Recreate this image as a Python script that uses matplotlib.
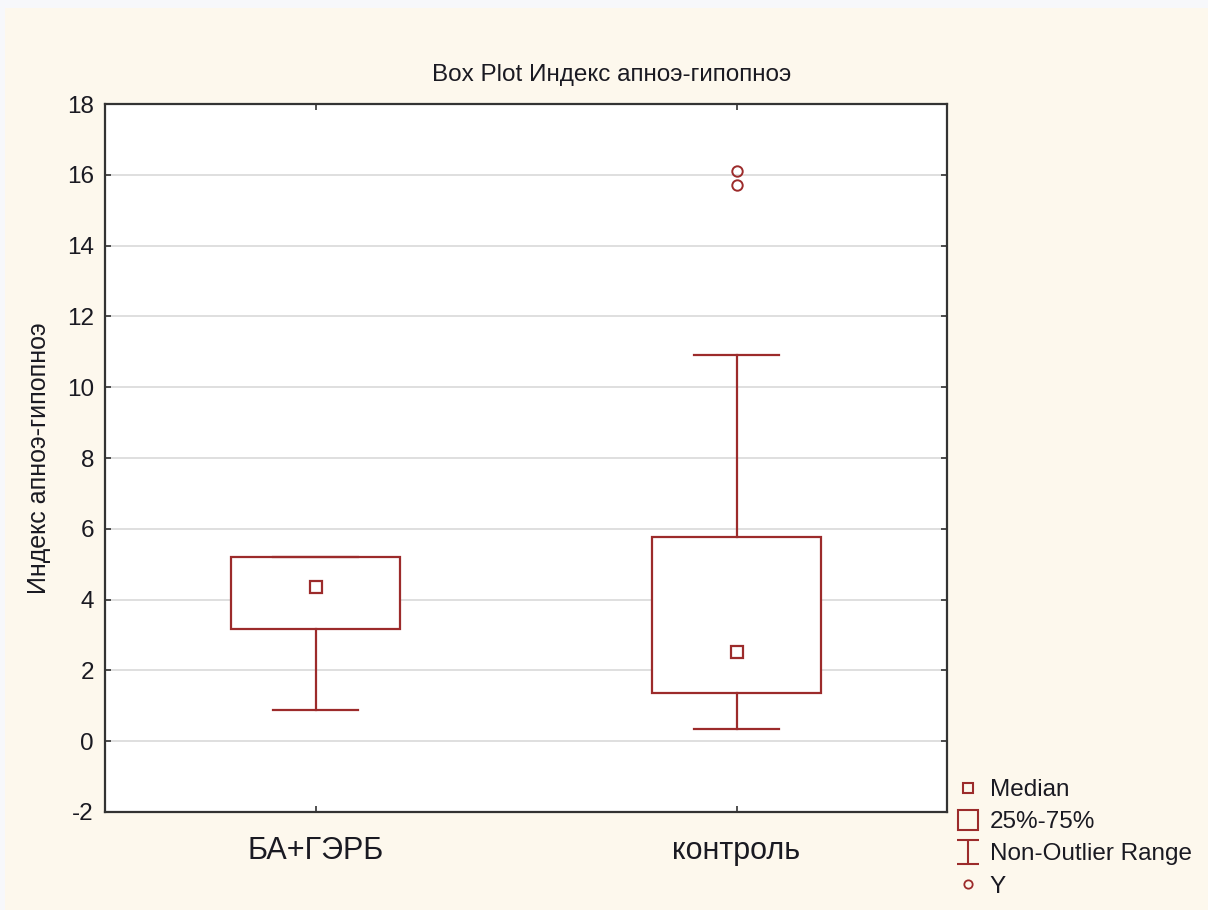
import matplotlib
matplotlib.use("Agg")
import matplotlib.pyplot as plt
from matplotlib.lines import Line2D
from matplotlib.patches import Rectangle
from matplotlib.path import Path

# ---------------------------------------------------------------------------
# Data
# ---------------------------------------------------------------------------
groups = ["БА+ГЭРБ", "контроль"]
q1 = [3.17, 1.36]
q3 = [5.2, 5.78]
medians = [4.36, 2.52]
whisk_lo = [0.88, 0.34]
whisk_hi = [5.2, 10.9]
outliers = [[], [16.1, 15.7]]

yticks = list(range(-2, 19, 2))

RED = "#9c2b2b"
TEXT = "#1a1a22"
BG = "#fdf8ed"

plt.rcParams["font.family"] = ["Liberation Sans", "DejaVu Sans"]
plt.rcParams["axes.unicode_minus"] = False

fig = plt.figure(figsize=(12.08, 9.10), dpi=100, facecolor=BG)
# thin light frame strip along top/left like the screenshot
fig.patches.append(Rectangle((0, 1 - 8 / 910), 1, 8 / 910, transform=fig.transFigure,
                             facecolor="#f7f8fb", edgecolor="none", zorder=0))
fig.patches.append(Rectangle((0, 0), 5 / 1208, 1, transform=fig.transFigure,
                             facecolor="#f7f8fb", edgecolor="none", zorder=0))

ax = fig.add_axes([105 / 1208, 1 - 812 / 910, 842 / 1208, 708 / 910])
ax.set_facecolor("white")

stats = []
for i, g in enumerate(groups):
    stats.append({
        "label": g, "med": medians[i], "q1": q1[i], "q3": q3[i],
        "whislo": whisk_lo[i], "whishi": whisk_hi[i], "fliers": outliers[i],
    })

pos = list(range(len(groups)))
lp = dict(color=RED, linewidth=1.6)
ax.bxp(stats, positions=pos, widths=0.4, capwidths=0.2, patch_artist=True,
       boxprops=dict(facecolor="white", edgecolor=RED, linewidth=1.6),
       whiskerprops=lp, capprops=lp, medianprops=dict(visible=False),
       flierprops=dict(marker="o", markersize=7.5, markerfacecolor="none",
                       markeredgecolor=RED, markeredgewidth=1.4),
       zorder=3)
ax.plot(pos, medians, "s", markersize=8.5, markerfacecolor="none",
        markeredgecolor=RED, markeredgewidth=1.6, zorder=4)

ax.set_xlim(-0.5, 1.5)
ax.set_ylim(-2, 18)
ax.set_yticks(yticks)
ax.set_yticklabels([str(v) for v in yticks])
ax.set_xticks(pos)
ax.set_xticklabels(groups, fontsize=22, color=TEXT)
ax.grid(axis="y", color="#d9d9d9", linewidth=1.2, zorder=0)
ax.set_axisbelow(True)

ax.tick_params(axis="both", direction="in", length=4, width=1.2, color="#333333",
               top=True, right=True, labelcolor=TEXT)
ax.tick_params(axis="y", labelsize=17.5, pad=8)
ax.tick_params(axis="x", pad=17)
for s in ax.spines.values():
    s.set_color("#333333")
    s.set_linewidth(1.6)

# title is centred on the whole figure in the reference, not on the axes
fig.text(612 / 1208, 1 - 75 / 910, "Box Plot Индекс апноэ-гипопноэ",
         fontsize=17.5, color=TEXT, ha="center", va="center")
ax.set_ylabel("Индекс апноэ-гипопноэ", fontsize=18, color=TEXT, labelpad=11)

# legend outside at lower right
ibeam = Path([(-0.45, -0.5), (0.45, -0.5), (0, -0.5), (0, 0.5), (-0.45, 0.5), (0.45, 0.5)],
             [Path.MOVETO, Path.LINETO, Path.MOVETO, Path.LINETO, Path.MOVETO, Path.LINETO])
handles = [
    Line2D([], [], linestyle="none", marker="s", markersize=7, markerfacecolor="none",
           markeredgecolor=RED, markeredgewidth=1.5),
    Line2D([], [], linestyle="none", marker="s", markersize=15, markerfacecolor="none",
           markeredgecolor=RED, markeredgewidth=1.5),
    Line2D([], [], linestyle="none", marker=ibeam, markersize=17, markerfacecolor="none",
           markeredgecolor=RED, markeredgewidth=1.5),
    Line2D([], [], linestyle="none", marker="o", markersize=6, markerfacecolor="none",
           markeredgecolor=RED, markeredgewidth=1.3),
]
labels = ["Median", "25%-75%", "Non-Outlier Range", "Y"]
fig.legend(handles, labels, loc="upper left", bbox_to_anchor=(957 / 1208, 1 - 779 / 910),
           frameon=False, fontsize=17.5, labelcolor=TEXT, handlelength=0.9,
           handletextpad=0.45, labelspacing=0.42, borderpad=0, borderaxespad=0)

fig.savefig("out.png", dpi=100, facecolor=BG)
